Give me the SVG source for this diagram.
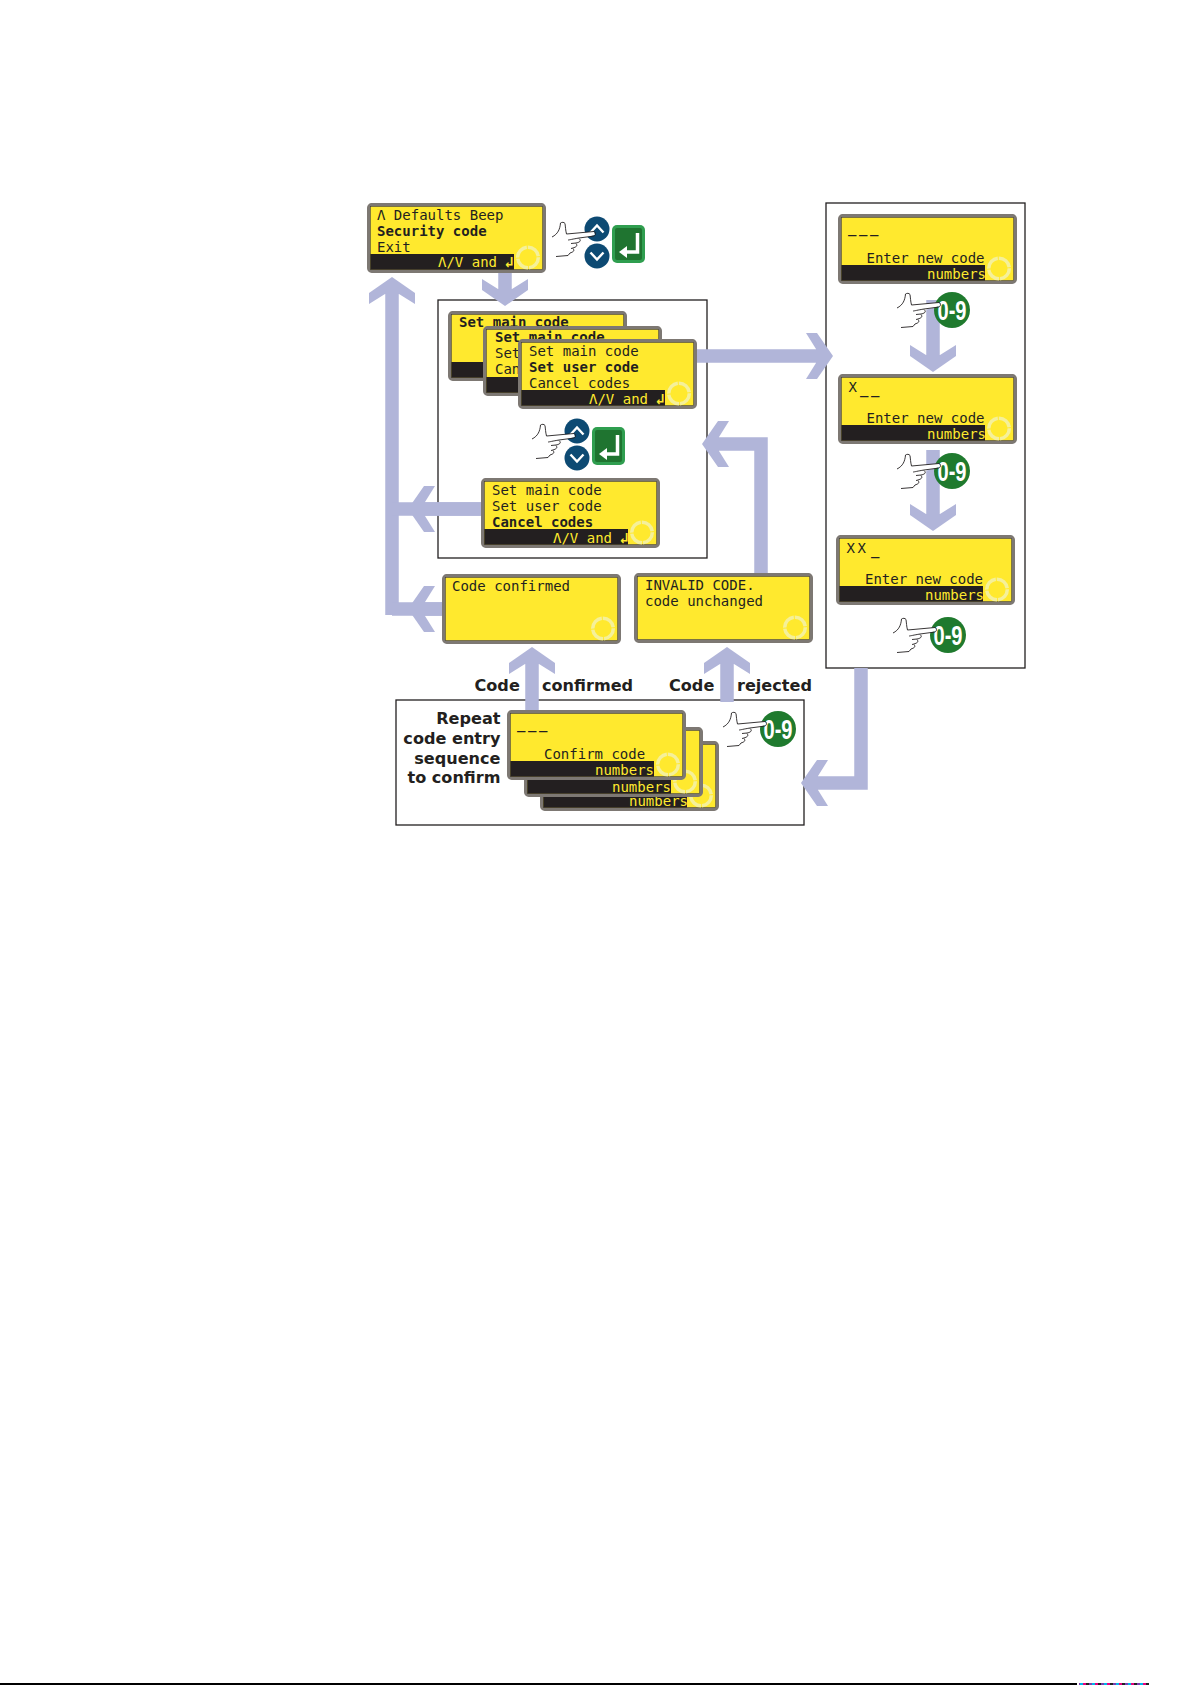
<svg xmlns="http://www.w3.org/2000/svg" xmlns:xlink="http://www.w3.org/1999/xlink" width="1192" height="1685" viewBox="0 0 1192 1685">
<style>
text{font-family:"DejaVu Sans Mono","Liberation Mono",monospace;font-size:14px;fill:#231f20}
.b{font-weight:bold}
.bar{fill:#ffe92e}
.lab{font-family:"DejaVu Sans",Verdana,sans-serif;font-weight:bold;font-size:16.1px}
.num{font-family:"Liberation Sans",Arial,sans-serif;font-weight:bold;font-size:27px;fill:#fff;text-anchor:middle}
.box{fill:#fff;stroke:#231f20;stroke-width:1.3}
.shaft{fill:none;stroke:#b1b5d9;stroke-width:13.5}
.head{marker-end:url(#ah)}
.ent{font-weight:bold;font-size:15px}
.dash{letter-spacing:2.6px}
</style>
<defs>
<marker id="ah" markerUnits="userSpaceOnUse" markerWidth="34" markerHeight="50" refX="18" refY="25" orient="auto">
<path d="M30 25L14 2H3L13 18V32L3 48H14Z" fill="#b1b5d9"/>
</marker>
<pattern id="dots" width="12" height="2" patternUnits="userSpaceOnUse">
<rect width="3" height="2" fill="#00b7eb"/><rect x="3" width="3" height="2" fill="#e6007e"/><rect x="6" width="3" height="2" fill="#222"/><rect x="9" width="3" height="2" fill="#7a3fb0"/>
</pattern>
<g id="lcd">
<rect x="1.7" y="1.7" width="175.6" height="66.6" rx="3" fill="#ffe92e" stroke="#7d7873" stroke-width="3.4"/>
<rect x="3.6" y="3.6" width="171.8" height="62.8" fill="none" stroke="#3a3630" stroke-width=".5"/>
<circle cx="161" cy="54.5" r="10.300" fill="none" stroke="#f5f09a" stroke-width="3.500" stroke-dasharray="15 1"/>
</g>
<g id="lcdbar">
<use xlink:href="#lcd" href="#lcd"/>
<rect x="3.4" y="51" width="143.6" height="15.6" fill="#231f20"/>
</g>
<g id="hand">
<path d="M12 27L20 24L20.500 13L25 13L26.500 24L54 21.500L55 25L40 29L37 33L34 38L30 43L28 45.500L16 46.500L28 30Z" fill="#fff"/>
<path d="M26.500 24L54 21.500C56 22 56 25 54 26L39 28M39 28C33 29 29 30 28 30M39 28.500C42 31 39 32.500 36 33L31 33.500M36 33.500C38 36 36 37 33 38L31 38.500M33 38.500C35 41 33 42 30 43L28 45.500C24 46 20 46 16 46.500M12 27C18 24 20 19 20.500 13C22 12 24 12 25 13.500C25.500 17 25.500 20 26.500 24" fill="none" stroke="#231f20" stroke-width=".9"/>
</g>
<g id="nav">
<circle cx="57" cy="19" r="12.500" fill="#0d4a73"/>
<circle cx="57" cy="46" r="12.500" fill="#0d4a73"/>
<path d="M50.500 22.500L57 15.500L63.500 22.500M50.500 42.500L57 49.500L63.500 42.500" fill="none" stroke="#fff" stroke-width="2.400"/>
<rect x="72" y="15" width="33" height="38" rx="5" fill="#2f9e4f"/>
<rect x="75" y="18" width="27" height="32" rx="2" fill="#1f7430"/>
<path d="M97.500 23V42H85" fill="none" stroke="#fff" stroke-width="3.500"/>
<path d="M79 42L87 36V48Z" fill="#fff"/>
<use xlink:href="#hand" href="#hand"/>
</g>
<g id="key">
<circle cx="67" cy="29" r="18" fill="#1f7a2e"/>
<text class="num" x="67" y="38.500" textLength="29" lengthAdjust="spacingAndGlyphs">0-9</text>
<use xlink:href="#hand" href="#hand"/>
</g>
</defs>
<rect width="1192" height="1685" fill="#fff"/>
<g id="boxes">
<rect id="box-menu" class="box" x="438" y="300" width="269" height="258"/>
<rect id="box-entry" class="box" x="826" y="203" width="199" height="465"/>
<rect id="box-confirm" class="box" x="396" y="700" width="408" height="125"/>
</g>
<g id="connectors">
<path class="shaft head" d="M392 615V289"/>
<path class="shaft" d="M442 609H392"/>
<path class="shaft head" d="M442 609H420"/>
<path class="shaft" d="M481 509H392"/>
<path class="shaft head" d="M481 509H420"/>
<path class="shaft head" d="M505 270V294"/>
<path class="shaft head" d="M690 356H821"/>
<path class="shaft head" d="M761 575V444H714"/>
<path class="shaft head" d="M532 712V659"/>
<path class="shaft head" d="M727 702V659"/>
<path class="shaft head" d="M933 300V360"/>
<path class="shaft head" d="M933 450V519"/>
<path class="shaft head" d="M861 668V783H813"/>
</g>
<g id="n-defaults" transform="translate(367 203)"><use xlink:href="#lcdbar" href="#lcdbar"/>
<text x="10" y="16.500">Λ Defaults Beep</text><text class="b" x="10" y="32.500">Security code</text><text x="10" y="48.500">Exit</text>
<text class="bar" x="71" y="64">Λ/V and <tspan class="ent" dx="-1">↲</tspan></text></g>
<g id="n-nav1" transform="translate(540 210)"><use xlink:href="#nav" href="#nav"/></g>
<g id="n-main" transform="translate(448 311)"><use xlink:href="#lcdbar" href="#lcdbar"/><text class="b" x="11" y="16">Set main code</text></g>
<g id="n-main2" transform="translate(483 326)"><use xlink:href="#lcdbar" href="#lcdbar"/><text class="b" x="12" y="16">Set main code</text><text x="12" y="32">Set</text><text x="12" y="48">Can</text></g>
<g id="n-user" transform="translate(518 339)"><use xlink:href="#lcdbar" href="#lcdbar"/>
<text x="11" y="17">Set main code</text><text class="b" x="11" y="33">Set user code</text><text x="11" y="49">Cancel codes</text>
<text class="bar" x="71" y="65">Λ/V and <tspan class="ent" dx="-1">↲</tspan></text></g>
<g id="n-nav2" transform="translate(520 412)"><use xlink:href="#nav" href="#nav"/></g>
<g id="n-cancel" transform="translate(481 478)"><use xlink:href="#lcdbar" href="#lcdbar"/>
<text x="11" y="16.500">Set main code</text><text x="11" y="32.500">Set user code</text><text class="b" x="11" y="48.500">Cancel codes</text>
<text class="bar" x="72" y="65">Λ/V and <tspan class="ent" dx="-1">↲</tspan></text></g>
<g id="n-confirmed" transform="translate(442 574)"><use xlink:href="#lcd" href="#lcd"/><text x="10" y="16.500">Code confirmed</text></g>
<g id="n-invalid" transform="translate(634 573)"><use xlink:href="#lcd" href="#lcd"/><text x="11" y="16.500">INVALID CODE.</text><text x="11" y="32.500">code unchanged</text></g>
<g id="n-enter1" transform="translate(838 214)"><use xlink:href="#lcdbar" href="#lcdbar"/>
<text class="dash b" x="10" y="19">___</text><text x="28.500" y="49">Enter new code</text><text class="bar" x="89" y="64.500">numbers</text></g>
<g id="n-key1" transform="translate(885 281)"><use xlink:href="#key" href="#key"/></g>
<g id="n-enter2" transform="translate(838 374)"><use xlink:href="#lcdbar" href="#lcdbar"/>
<text x="10.500" y="18">X</text><text class="dash b" x="22" y="19.500">__</text><text x="28.500" y="49">Enter new code</text><text class="bar" x="89" y="65">numbers</text></g>
<g id="n-key2" transform="translate(885 442)"><use xlink:href="#key" href="#key"/></g>
<g id="n-enter3" transform="translate(836 535)"><use xlink:href="#lcdbar" href="#lcdbar"/>
<text class="dash" x="10.500" y="18">XX</text><text class="b" x="35" y="20">_</text><text x="29" y="49">Enter new code</text><text class="bar" x="89" y="65">numbers</text></g>
<g id="n-key3" transform="translate(881 606)"><use xlink:href="#key" href="#key"/></g>
<g id="n-c3" transform="translate(540 741)"><use xlink:href="#lcdbar" href="#lcdbar"/><text class="bar" x="89" y="65">numbers</text></g>
<g id="n-c2" transform="translate(524 727)"><use xlink:href="#lcdbar" href="#lcdbar"/><text class="bar" x="88" y="65">numbers</text></g>
<g id="n-c1" transform="translate(507 710)"><use xlink:href="#lcdbar" href="#lcdbar"/>
<text class="dash b" x="10" y="19">___</text><text x="37" y="49">Confirm code</text><text class="bar" x="88" y="65">numbers</text></g>
<g id="n-key4" transform="translate(711 700)"><use xlink:href="#key" href="#key"/></g>
<g id="labels">
<text class="lab" x="474.500" y="691">Code</text><text class="lab" x="542" y="691">confirmed</text>
<text class="lab" x="669" y="691">Code</text><text class="lab" x="737" y="691">rejected</text>
<g text-anchor="end"><text class="lab" x="500.500" y="724">Repeat</text><text class="lab" x="500.500" y="744">code entry</text><text class="lab" x="500.500" y="764">sequence</text><text class="lab" x="500.500" y="783">to confirm</text></g>
</g>
<rect id="page-rule" x="0" y="1683" width="1077" height="2" fill="#000"/>
<rect id="page-marks" x="1079" y="1683" width="70" height="2" fill="url(#dots)"/>
</svg>
